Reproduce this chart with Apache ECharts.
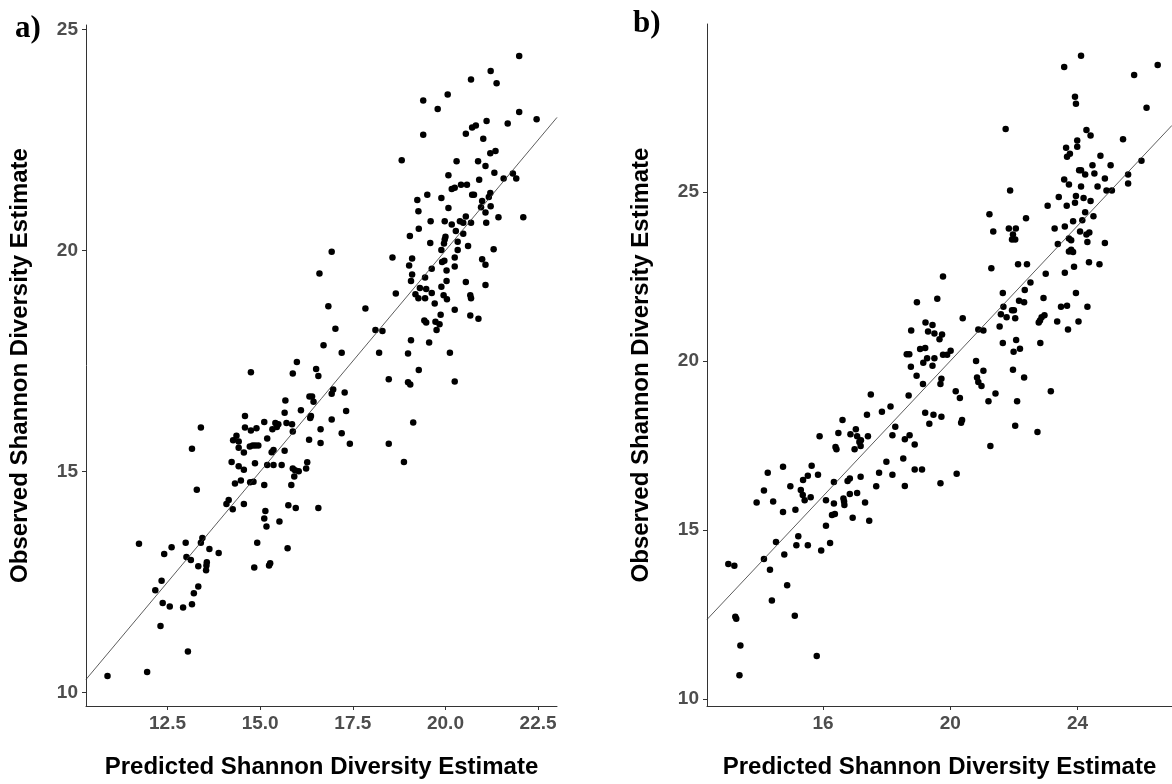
<!DOCTYPE html>
<html>
<head>
<meta charset="utf-8">
<script src="https://cdn.jsdelivr.net/npm/echarts@6/dist/echarts.min.js"></script>
<style>
  html, body { margin: 0; padding: 0; background: #fff; }
  #chart { width: 1172px; height: 784px; }
</style>
</head>
<body>
<div id="chart"></div>
<script>
// panel a) : [predicted, observed]
var panelA = [
  [16.60,19.48],[16.71,17.86],
  [21.99,24.40],[21.22,24.06],[21.38,23.78],[20.69,23.87],[20.06,23.53],[19.40,23.39],[19.79,23.20],[21.99,23.13],
  [22.46,22.97],[21.11,22.93],[21.68,22.87],[20.72,22.78],[20.82,22.83],[20.55,22.64],[19.40,22.62],[21.02,22.53],
  [21.21,22.20],[21.35,22.25],[18.82,22.04],[20.30,22.02],[20.88,22.02],[21.08,21.91],[21.32,21.76],[20.08,21.70],
  [21.57,21.63],[21.82,21.74],[21.91,21.63],[20.91,21.60],[20.17,21.39],[20.25,21.42],[20.42,21.49],[20.58,21.49],
  [19.51,21.26],[19.89,21.19],[20.72,21.26],[20.77,21.26],[21.21,21.30],[21.17,21.21],[19.24,21.14],[20.99,21.12],
  [21.22,21.00],[20.96,20.98],[19.27,20.89],[20.08,20.96],[21.08,20.86],[20.55,20.77],[21.43,20.75],[22.10,20.75],
  [19.60,20.66],[19.98,20.66],[20.17,20.59],[20.39,20.66],[20.48,20.63],[20.69,20.63],[21.10,20.63],[19.28,20.49],
  [20.28,20.44],[20.48,20.38],[19.04,20.33],[20.00,20.31],[19.98,20.25],[19.96,20.16],[20.33,20.20],[19.59,20.17],
  [19.89,20.01],[20.33,20.01],[20.61,20.10],[21.30,20.03],[16.93,19.97],[18.57,19.84],[19.10,19.82],[20.25,19.84],
  [20.99,19.80],[19.02,19.66],[19.91,19.74],[19.97,19.77],[21.08,19.68],[20.25,19.64],[19.63,19.59],[20.03,19.55],
  [19.10,19.46],[19.45,19.39],[19.07,19.31],[20.03,19.31],[20.55,19.29],[21.08,19.22],[18.66,19.03],[19.31,19.15],
  [19.48,19.13],[19.63,19.04],[19.89,19.18],[19.19,19.01],[19.27,18.92],[19.45,18.92],[19.95,18.99],[20.04,18.90],
  [20.67,18.99],[20.69,18.92],[19.71,18.80],[16.84,18.74],[17.84,18.69],[20.25,18.66],[20.67,18.53],[20.89,18.46],
  [19.87,18.55],[19.43,18.42],[19.48,18.37],[19.73,18.39],[19.84,18.33],[19.76,18.20],[17.03,18.23],[18.11,18.20],
  [18.30,18.18],[19.07,17.97],[19.56,17.92],
  [15.99,17.48],[14.75,17.25],[15.88,17.22],[16.51,17.32],[16.57,17.16],[16.33,16.70],[16.40,16.70],[16.44,16.58],
  [15.68,16.61],[15.66,16.33],[16.10,16.39],[14.59,16.26],[16.37,16.26],[16.35,16.21],[16.63,15.96],[13.40,16.00],
  [15.11,16.12],[15.41,16.10],[15.49,16.07],[15.71,16.10],[15.86,16.07],[15.88,15.91],[14.59,16.00],[14.75,15.93],
  [14.90,15.98],[15.33,15.96],[15.45,16.01],[14.36,15.81],[14.27,15.71],[14.42,15.68],[14.42,15.54],[14.56,15.43],
  [15.19,15.75],[14.72,15.57],[14.80,15.59],[14.87,15.59],[14.95,15.59],[13.16,15.52],[15.31,15.44],[15.36,15.49],
  [15.66,15.47],[16.32,15.72],[16.63,15.65],[14.23,15.22],[14.42,15.12],[14.56,15.04],[14.86,15.19],[15.19,15.15],
  [15.36,15.15],[15.58,15.15],[15.88,15.07],[15.94,15.03],[16.04,15.01],[16.24,15.07],[16.27,15.21],[15.92,14.89],
  [15.84,14.70],[14.48,14.80],[14.32,14.73],[14.73,14.76],[14.82,14.77],[15.11,14.70],[13.29,14.59],[14.15,14.36],
  [14.09,14.27],[14.26,14.15],[14.56,14.27],[15.76,14.24],[15.96,14.18],[16.57,14.18],[15.14,14.11],[15.11,13.94],
  [15.17,13.76],[15.52,13.87],[13.44,13.50],[11.73,13.37],[12.61,13.29],[12.99,13.39],[13.40,13.39],[12.41,13.14],
  [13.63,13.25],[13.88,13.16],[13.01,13.07],[13.13,13.00],[14.92,13.39],[15.74,13.27],[13.56,12.95],[13.55,12.88],
  [13.54,12.77],[13.33,12.86],[14.84,12.83],[15.27,12.93],[15.24,12.88],[12.34,12.53],[12.17,12.32],[13.33,12.40],
  [13.21,12.25],[12.37,12.03],[12.56,11.95],[12.92,11.93],[13.16,12.00],[12.31,11.51],[13.05,10.93],[11.95,10.47],
  [10.88,10.38],
  [17.20,17.69],[18.21,17.69],[18.99,17.67],[20.12,17.69],[19.28,17.30],[18.47,17.09],[18.99,17.02],[19.05,16.97],
  [20.25,17.04],[16.97,16.86],[16.93,16.76],[17.28,16.79],[17.32,16.37],[16.93,16.18],[19.13,16.11],[17.20,15.87],
  [17.42,15.63],[18.47,15.63],[18.88,15.22]
];

// panel b) : [predicted, observed]
var panelB = [
  [18.95,21.74],[19.22,21.14],[19.44,21.06],[18.77,20.90],[19.30,20.87],[19.50,20.81],[18.63,20.20],[18.71,20.20],
  [19.05,20.35],[19.21,20.38],[19.27,20.08],[19.50,20.08],
  [24.11,29.03],[23.58,28.70],[26.52,28.76],[25.78,28.46],[23.92,27.82],[23.95,27.61],[26.17,27.49],[21.74,26.86],
  [24.28,26.83],[24.41,26.67],[25.43,26.56],[23.99,26.52],[23.99,26.34],[23.64,26.31],[23.76,26.13],[23.67,26.04],
  [24.72,26.07],[24.47,25.79],[25.04,25.79],[24.05,25.64],[24.11,25.64],[24.24,25.52],[24.53,25.55],[24.86,25.40],
  [23.58,25.37],[23.73,25.22],[24.11,25.16],[24.63,25.16],[24.91,25.04],[25.08,25.04],[25.59,25.52],[25.59,25.25],
  [26.01,25.92],[21.88,25.04],[23.41,24.85],[23.95,24.88],[24.19,24.82],[23.06,24.59],[23.66,24.59],[23.92,24.68],
  [24.41,24.73],[24.24,24.40],[24.50,24.28],[21.23,24.34],[22.38,24.22],[23.86,24.13],[24.15,24.16],[21.35,23.83],
  [21.84,23.92],[22.06,23.92],[21.97,23.74],[21.94,23.59],[22.04,23.59],[23.28,23.92],[23.60,23.98],[24.08,23.83],
  [24.28,23.74],[24.37,23.80],[23.73,23.62],[23.80,23.57],[24.31,23.52],[24.86,23.49],[23.38,23.46],[23.73,23.24],
  [23.80,23.29],[23.86,23.22],[24.36,22.92],[24.69,22.86],[23.89,22.79],[23.60,22.61],[21.29,22.74],[22.13,22.86],
  [22.41,22.86],[23.00,22.58],[19.77,22.50],[22.52,22.32],[22.34,22.10],[19.59,21.84],[21.65,22.01],[22.93,21.86],
  [23.95,22.01],[22.16,21.78],[22.32,21.74],[21.67,21.60],[23.48,21.60],[23.67,21.63],[24.31,21.60],[20.39,21.26],
  [21.59,21.38],[21.94,21.50],[22.00,21.50],[21.77,21.29],[22.04,21.26],[22.96,21.35],[22.87,21.29],[22.82,21.20],
  [22.78,21.14],[23.36,21.17],[24.03,21.17],[23.70,20.93],[21.55,21.02],[20.88,20.93],[21.04,20.90],[19.66,20.64],
  [19.74,20.78],[21.65,20.53],[22.07,20.62],[22.83,20.53],[20.01,20.30],[19.77,20.18],[19.90,20.18],[21.99,20.27],
  [22.19,20.36],
  [18.76,19.83],[19.15,19.95],[19.44,19.86],[18.94,19.56],[19.14,19.32],[17.50,19.01],[18.69,18.98],[18.12,18.65],
  [17.85,18.50],[17.38,18.41],[19.21,18.47],[19.47,18.41],[19.34,18.14],[16.61,18.25],[18.27,18.05],[18.18,17.80],
  [18.72,17.80],[18.57,17.68],[18.88,17.53],[15.89,17.77],[16.48,17.87],[16.86,17.83],[17.03,17.98],[17.07,17.77],
  [17.19,17.65],[17.14,17.60],[17.41,17.77],[16.39,17.45],[16.42,17.39],[16.99,17.39],[17.18,17.48],[18.52,17.11],
  [17.99,17.02],[17.76,16.69],[18.18,16.63],[18.88,16.79],[19.11,16.79],[18.57,16.30],[14.26,16.69],[14.74,16.87],
  [15.64,16.90],[15.37,16.48],[15.52,16.60],[15.84,16.63],[14.97,16.29],[14.14,16.17],[15.30,16.18],[15.36,16.03],
  [15.42,15.88],[15.61,15.97],[13.91,15.81],[14.43,15.84],[14.74,15.53],[15.13,15.60],[16.34,16.42],[16.77,16.45],
  [16.84,16.52],[17.18,16.57],[17.67,16.29],[16.09,15.88],[16.34,15.78],[16.64,15.93],[16.66,15.84],[16.67,15.74],
  [16.84,16.06],[17.07,16.09],[17.32,15.81],[16.93,15.36],[17.45,15.27],[16.28,15.44],[16.37,15.47],[16.09,15.12],
  [15.22,14.81],[15.16,14.55],[15.52,14.55],[15.94,14.39],[16.22,14.61],[14.52,14.64],[14.78,14.27],[14.14,14.14],
  [14.33,13.82],[13.02,13.99],[13.21,13.94],[14.87,13.36],[14.39,12.91],[15.11,12.46],[13.24,12.43],[13.27,12.37],
  [13.40,11.58],[15.80,11.27],[13.37,10.70],
  [20.81,20.00],[21.04,19.71],[21.97,19.74],[22.32,19.51],[19.72,19.47],[19.69,19.32],[20.84,19.51],[20.88,19.38],
  [20.98,19.26],[20.17,19.10],[20.30,18.90],[21.42,19.04],[21.20,18.81],[22.10,18.81],[23.16,19.10],[19.72,18.35],
  [20.37,18.25],[20.34,18.17],[22.04,18.08],[22.74,17.90],[21.26,17.48],[20.20,16.66],[19.69,16.38]
];

var xTicksA = [12.5, 15, 17.5, 20, 22.5];
var xTicksB = [16, 20, 24];
var yTicks = [10, 15, 20, 25];
var rangeA = { x: [10.3, 23.01], y: [9.70, 25.10] };
var rangeB = { x: [12.35, 26.97], y: [9.79, 29.97] };

var myChart = echarts.init(document.getElementById('chart'));

var tickLabel = {
  color: '#4d4d4d', fontFamily: 'Liberation Sans, Arial, sans-serif',
  fontWeight: 'bold', fontSize: 19, margin: 8
};
var axisTitle = {
  color: '#000', fontFamily: 'Liberation Sans, Arial, sans-serif',
  fontWeight: 'bold', fontSize: 24
};
var panelTag = {
  fontFamily: 'Liberation Serif, Times New Roman, serif',
  fontWeight: 'bold', fontSize: 31, color: '#000'
};

function xAxisOf(idx, range, ticks, fmt) {
  return {
    type: 'value', gridIndex: idx, min: range[0], max: range[1],
    name: 'Predicted Shannon Diversity Estimate', nameLocation: 'middle', nameGap: 49,
    nameTextStyle: axisTitle,
    axisLine: { lineStyle: { color: '#333', width: 1 } },
    axisTick: { show: true, length: 4, lineStyle: { color: '#333' }, customValues: ticks },
    axisLabel: Object.assign({ customValues: ticks, formatter: fmt }, tickLabel),
    splitLine: { show: false }
  };
}
function yAxisOf(idx, range) {
  return {
    type: 'value', gridIndex: idx, min: range[0], max: range[1],
    name: 'Observed Shannon Diversity Estimate', nameLocation: 'middle', nameGap: 54,
    nameRotate: 90, nameTextStyle: axisTitle,
    axisLine: { show: true, lineStyle: { color: '#333', width: 1 } },
    axisTick: { show: true, length: 4, lineStyle: { color: '#333' }, customValues: yTicks },
    axisLabel: Object.assign({ customValues: yTicks }, tickLabel),
    splitLine: { show: false }
  };
}

var option = {
  animation: false,
  backgroundColor: '#fff',
  title: [
    { text: 'a)', left: 10, top: 8, textStyle: panelTag },
    { text: 'b)', left: 628, top: 3, textStyle: panelTag }
  ],
  grid: [
    { left: 86, top: 25, width: 471, height: 681 },
    { left: 707, top: 24, width: 465, height: 682 }
  ],
  xAxis: [
    xAxisOf(0, rangeA.x, xTicksA, function (v) { return v.toFixed(1); }),
    xAxisOf(1, rangeB.x, xTicksB, function (v) { return String(v); })
  ],
  yAxis: [ yAxisOf(0, rangeA.y), yAxisOf(1, rangeB.y) ],
  series: [
    {
      type: 'scatter', xAxisIndex: 0, yAxisIndex: 0, data: panelA,
      symbolSize: 6.5, itemStyle: { color: '#000', opacity: 1 }
    },
    {
      type: 'line', xAxisIndex: 0, yAxisIndex: 0, symbol: 'none', silent: true,
      data: [[rangeA.x[0], rangeA.x[0]], [rangeA.x[1], rangeA.x[1]]],
      lineStyle: { color: '#333', width: 0.8 }
    },
    {
      type: 'scatter', xAxisIndex: 1, yAxisIndex: 1, data: panelB,
      symbolSize: 6.5, itemStyle: { color: '#000', opacity: 1 }
    },
    {
      type: 'line', xAxisIndex: 1, yAxisIndex: 1, symbol: 'none', silent: true,
      data: [[rangeB.x[0], rangeB.x[0]], [rangeB.x[1], rangeB.x[1]]],
      lineStyle: { color: '#333', width: 0.8 }
    }
  ]
};
myChart.setOption(option);
</script>
</body>
</html>
